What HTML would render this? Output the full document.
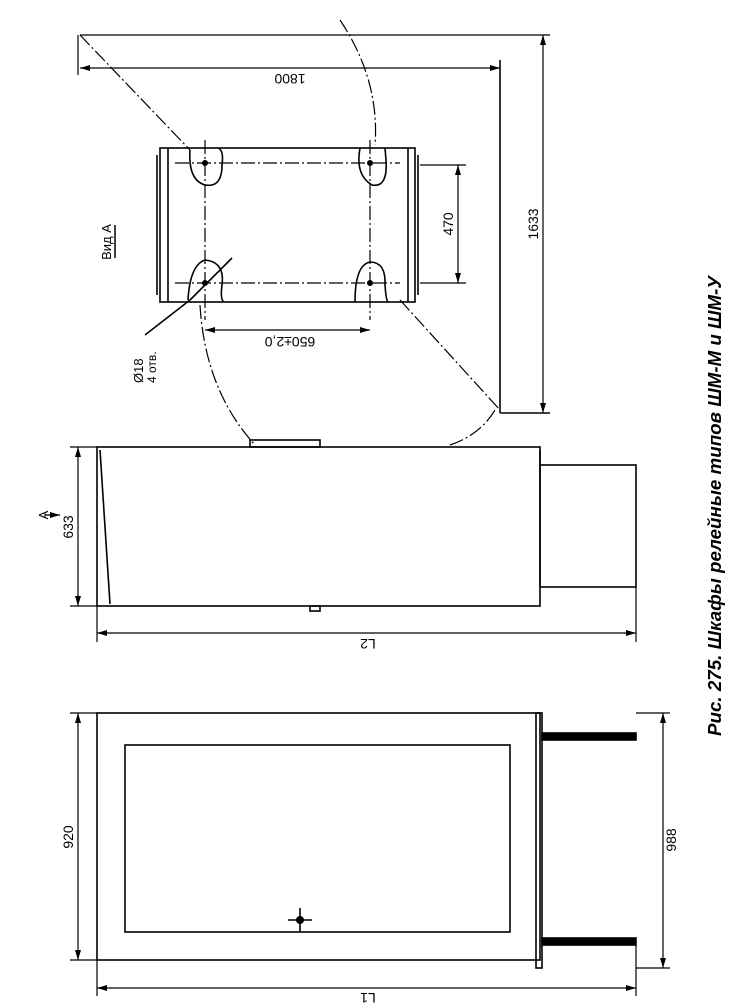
<!DOCTYPE html>
<html><head><meta charset="utf-8"><style>
html,body{margin:0;padding:0;background:#fff;}
svg{display:block;}
text{font-family:"Liberation Sans",sans-serif;fill:#000;}
</style></head><body>
<svg width="732" height="1006" viewBox="0 0 732 1006" xmlns="http://www.w3.org/2000/svg">
<defs>
<marker id="a" markerWidth="10" markerHeight="6" refX="10" refY="3" orient="auto-start-reverse" markerUnits="userSpaceOnUse"><path d="M0,0 L10,3 L0,6 z" fill="#000"/></marker>
</defs>
<g stroke="#000" fill="none" stroke-width="1.6">
<rect x="160" y="148" width="255" height="154"/>
<line x1="168" y1="148" x2="168" y2="302"/>
<line x1="408" y1="148" x2="408" y2="302"/>
<line x1="157" y1="155" x2="157" y2="295"/>
<line x1="418" y1="155" x2="418" y2="295"/>
<g stroke-dasharray="14,3,2,3" stroke-width="1.2">
<line x1="175" y1="163" x2="400" y2="163"/>
<line x1="175" y1="283" x2="400" y2="283"/>
<line x1="205" y1="140" x2="205" y2="320"/>
<line x1="370" y1="140" x2="370" y2="320"/>
<line x1="80" y1="35" x2="190" y2="150"/>
<line x1="400" y1="300" x2="500" y2="410"/>
<path d="M340,20 Q380,80 375,145"/>
<path d="M200,305 Q205,390 255,445"/>
<path d="M450,445 Q480,435 495,410"/>
</g>
<path d="M190,150 Q188,180 205,185 Q222,188 222,165 Q224,150 218,148"/>
<path d="M360,148 Q355,175 372,185 Q388,188 386,160 L385,148"/>
<path d="M188,300 Q190,265 205,260 Q225,262 222,285 Q220,300 224,302"/>
<path d="M355,302 Q355,265 370,262 Q386,262 385,285 Q386,300 388,302"/>
<line x1="190" y1="300" x2="232" y2="258"/>
<line x1="190" y1="300" x2="145" y2="335"/>
<line x1="420" y1="165" x2="466" y2="165" stroke-width="1.2"/>
<line x1="420" y1="283" x2="466" y2="283" stroke-width="1.2"/>
<line x1="458" y1="165" x2="458" y2="283" stroke-width="1.2" marker-start="url(#a)" marker-end="url(#a)"/>
<line x1="205" y1="330" x2="370" y2="330" stroke-width="1.2" marker-start="url(#a)" marker-end="url(#a)"/>
<line x1="78" y1="35" x2="78" y2="75" stroke-width="1.2"/>
<line x1="80" y1="68" x2="500" y2="68" stroke-width="1.2" marker-start="url(#a)" marker-end="url(#a)"/>
<line x1="500" y1="60" x2="500" y2="413"/>
<line x1="500" y1="413" x2="550" y2="413"/>
<line x1="80" y1="35" x2="550" y2="35" stroke-width="1.2"/>
<line x1="543" y1="35" x2="543" y2="413" stroke-width="1.2" marker-start="url(#a)" marker-end="url(#a)"/>
<line x1="115" y1="258" x2="115" y2="225" stroke-width="1.5"/>
<rect x="97" y="447" width="443" height="159"/>
<line x1="100" y1="450" x2="110" y2="604"/>
<rect x="250" y="440" width="70" height="7"/>
<rect x="310" y="606" width="10" height="5"/>
<rect x="540" y="465" width="96" height="122"/>
<line x1="540" y1="450" x2="540" y2="465"/>
<line x1="70" y1="447" x2="97" y2="447" stroke-width="1.2"/>
<line x1="70" y1="606" x2="97" y2="606" stroke-width="1.2"/>
<line x1="78" y1="447" x2="78" y2="606" stroke-width="1.2" marker-start="url(#a)" marker-end="url(#a)"/>
<line x1="97" y1="606" x2="97" y2="642" stroke-width="1.2"/>
<line x1="636" y1="587" x2="636" y2="642" stroke-width="1.2"/>
<line x1="97" y1="633" x2="636" y2="633" stroke-width="1.2" marker-start="url(#a)" marker-end="url(#a)"/>
<line x1="45" y1="515" x2="60" y2="515" stroke-width="1.3" marker-end="url(#a)"/>
<rect x="97" y="713" width="443" height="247"/>
<rect x="125" y="745" width="385" height="187"/>
<rect x="536" y="713" width="6" height="255"/>
<rect x="542" y="733" width="94" height="7" fill="#000"/>
<rect x="542" y="938" width="94" height="7" fill="#000"/>
<line x1="300" y1="908" x2="300" y2="932"/>
<line x1="288" y1="920" x2="312" y2="920"/>
<line x1="70" y1="713" x2="97" y2="713" stroke-width="1.2"/>
<line x1="70" y1="960" x2="97" y2="960" stroke-width="1.2"/>
<line x1="78" y1="713" x2="78" y2="960" stroke-width="1.2" marker-start="url(#a)" marker-end="url(#a)"/>
<line x1="636" y1="713" x2="670" y2="713" stroke-width="1.2"/>
<line x1="636" y1="968" x2="670" y2="968" stroke-width="1.2"/>
<line x1="663" y1="713" x2="663" y2="968" stroke-width="1.2" marker-start="url(#a)" marker-end="url(#a)"/>
<line x1="97" y1="960" x2="97" y2="996" stroke-width="1.2"/>
<line x1="636" y1="945" x2="636" y2="996" stroke-width="1.2"/>
<line x1="97" y1="988" x2="636" y2="988" stroke-width="1.2" marker-start="url(#a)" marker-end="url(#a)"/>
</g>
<g fill="#000">
<circle cx="205" cy="163" r="3"/><circle cx="370" cy="163" r="3"/>
<circle cx="205" cy="283" r="3"/><circle cx="370" cy="283" r="3"/>
<circle cx="300" cy="920" r="4"/>
</g>
<g font-size="14">
<text transform="translate(290,74) rotate(180)" text-anchor="middle">1800</text>
<text transform="translate(538,224) rotate(-90)" text-anchor="middle">1633</text>
<text transform="translate(453,224) rotate(-90)" text-anchor="middle">470</text>
<text transform="translate(290,337) rotate(180)" text-anchor="middle">650±2,0</text>
<text transform="translate(111,242) rotate(-90)" text-anchor="middle" font-size="13">Вид А</text>
<text transform="translate(143,383) rotate(-90)" text-anchor="start" font-size="13">Ø18</text>
<text transform="translate(156,383) rotate(-90)" text-anchor="start" font-size="12">4 отв.</text>
<text transform="translate(73,527) rotate(-90)" text-anchor="middle">633</text>
<text transform="translate(48,515) rotate(-90)" text-anchor="middle" font-size="13">A</text>
<text transform="translate(368,639) rotate(180)" text-anchor="middle">L2</text>
<text transform="translate(73,837) rotate(-90)" text-anchor="middle">920</text>
<text transform="translate(676,840) rotate(-90)" text-anchor="middle">988</text>
<text transform="translate(368,993) rotate(180)" text-anchor="middle">L1</text>
<text transform="translate(721,506) rotate(-90)" text-anchor="middle" font-family="Liberation Serif" font-style="italic" font-weight="bold" font-size="18" textLength="460" lengthAdjust="spacingAndGlyphs">Рис. 275. Шкафы релейные типов ШМ-М и ШМ-У</text>
</g>
</svg>
</body></html>
